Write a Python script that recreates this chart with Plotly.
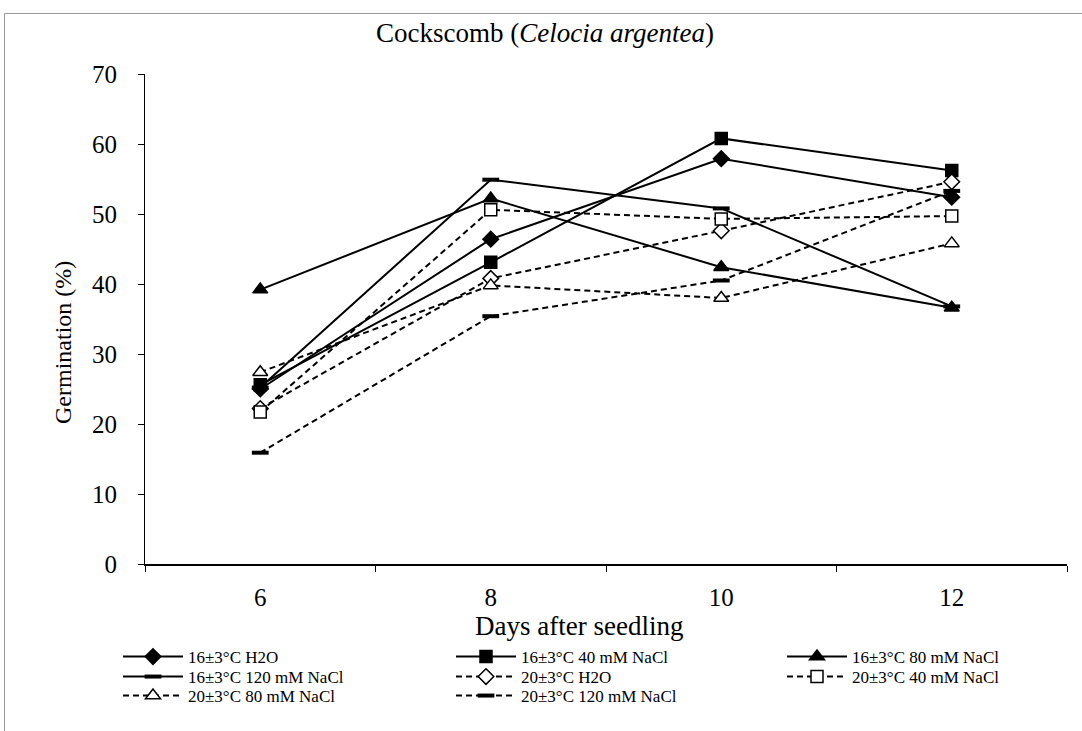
import plotly.graph_objects as go

# Days after seedling (category axis)
days = ["6", "8", "10", "12"]

# Germination (%) per treatment
g16_h2o = [25.0, 46.4, 57.9, 52.4]
g16_40 = [25.6, 43.1, 60.8, 56.2]
g16_80 = [39.2, 52.2, 42.4, 36.6]
g16_120 = [25.2, 54.9, 50.8, 36.8]
g20_h2o = [22.2, 40.8, 47.6, 54.6]
g20_40 = [21.7, 50.6, 49.3, 49.7]
g20_80 = [27.4, 39.8, 38.0, 45.8]
g20_120 = [15.9, 35.4, 40.5, 53.3]

labels = [
    "16±3°C H2O", "16±3°C 40 mM NaCl", "16±3°C 80 mM NaCl",
    "16±3°C 120 mM NaCl", "20±3°C H2O", "20±3°C 40 mM NaCl",
    "20±3°C 80 mM NaCl", "20±3°C 120 mM NaCl",
]
series = [g16_h2o, g16_40, g16_80, g16_120, g20_h2o, g20_40, g20_80, g20_120]

FONT = "Liberation Serif, Times New Roman, serif"
W, H = 1082, 731
ML, MR, MT, MB = 145, 15, 74, 167
PW, PH = W - ML - MR, H - MT - MB


def px_x(px):
    return (px - ML) / PW


def px_y(py):
    return (H - MB - py) / PH


styles = [
    dict(dash="solid", symbol="diamond", size=12, fill="black"),
    dict(dash="solid", symbol="square", size=12, fill="black"),
    dict(dash="solid", symbol="triangle-up", size=13, fill="black"),
    dict(dash="solid", symbol="line-ew", size=12, fill="black"),
    dict(dash="6px,4px", symbol="diamond", size=12, fill="white"),
    dict(dash="6px,4px", symbol="square", size=12, fill="white"),
    dict(dash="6px,4px", symbol="triangle-up", size=13, fill="white"),
    dict(dash="6px,4px", symbol="line-ew", size=12, fill="black"),
]

fig = go.Figure()

# legend grid: 3 columns x 3 rows
col_x = [118, 451, 782]
row_y = [657, 677, 696]
legend_layouts = {}

for i, (name, vals, st) in enumerate(zip(labels, series, styles)):
    key = "legend" if i == 0 else f"legend{i + 1}"
    if st["symbol"] == "line-ew":
        marker = dict(symbol=st["symbol"], size=st["size"],
                      line=dict(color="black", width=4))
    else:
        marker = dict(symbol=st["symbol"], size=st["size"], color=st["fill"],
                      line=dict(color="black", width=1.5))
    fig.add_trace(go.Scatter(
        x=days, y=vals, name=name, mode="lines+markers",
        line=dict(color="black", width=2, dash=st["dash"]),
        marker=marker, legend=key,
    ))
    r, c = divmod(i, 3)
    legend_layouts[key] = dict(
        x=px_x(col_x[c]), y=px_y(row_y[r]), xanchor="left", yanchor="middle",
        bgcolor="rgba(0,0,0,0)", borderwidth=0, itemwidth=60,
        font=dict(family=FONT, size=17, color="black"),
    )


def label(text, x, y, size, angle=0):
    return dict(text=text, x=px_x(x), y=px_y(y), xref="paper", yref="paper",
                xanchor="center", yanchor="middle", showarrow=False,
                textangle=angle, font=dict(family=FONT, size=size, color="black"))


fig.update_layout(
    width=W, height=H,
    margin=dict(l=ML, r=MR, t=MT, b=MB),
    paper_bgcolor="white", plot_bgcolor="white",
    font=dict(family=FONT, color="black"),
    showlegend=True,
    xaxis=dict(
        type="category", range=[-0.5, 3.5], tickson="boundaries",
        ticks="outside", ticklen=6, tickcolor="black",
        showline=True, linecolor="black", linewidth=1.5,
        showgrid=False, zeroline=False,
        tickfont=dict(family=FONT, size=25, color="black"),
        ticklabelstandoff=10,
    ),
    yaxis=dict(
        range=[0, 70], dtick=10, ticks="outside", ticklen=6, tickcolor="black",
        showline=True, linecolor="black", linewidth=1,
        showgrid=False, zeroline=False,
        tickfont=dict(family=FONT, size=25, color="black"),
        ticklabelstandoff=16,
    ),
    annotations=[
        label("Cockscomb (<i>Celocia argentea</i>)", 545, 33, 27),
        label("Days after seedling", 579, 626, 27),
        label("Germination (%)", 63, 343, 24, angle=-90),
    ],
    shapes=[
        dict(type="line", xref="paper", yref="paper",
             x0=px_x(4.5), x1=px_x(1082), y0=px_y(13.5), y1=px_y(13.5),
             line=dict(color="#9a9a9a", width=1), layer="below"),
        dict(type="line", xref="paper", yref="paper",
             x0=px_x(4.5), x1=px_x(4.5), y0=px_y(13.5), y1=px_y(731),
             line=dict(color="#9a9a9a", width=1), layer="below"),
    ],
    **legend_layouts,
)

fig.write_html("out.html")
